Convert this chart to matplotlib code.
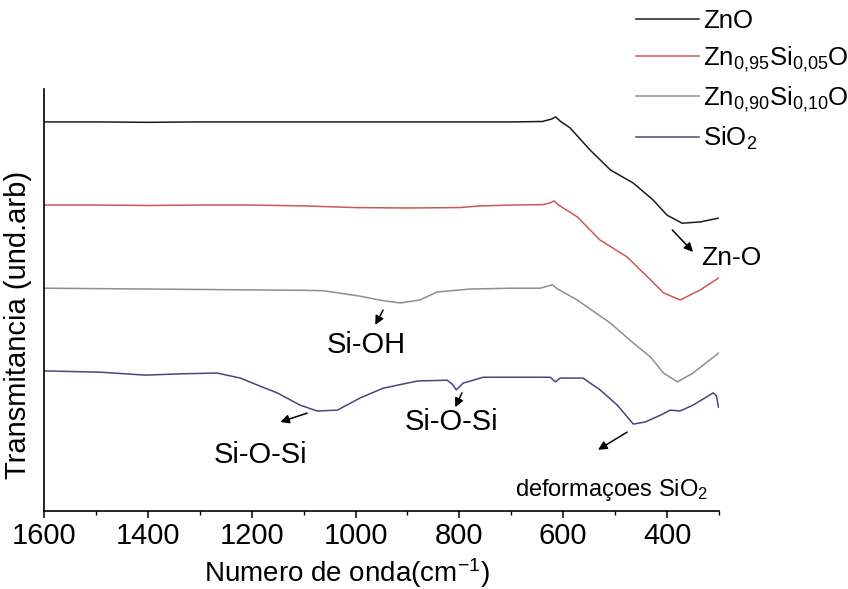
import matplotlib
matplotlib.use("Agg")
import matplotlib.pyplot as plt
from matplotlib import font_manager
from matplotlib.ticker import MultipleLocator

# ---- fonts -------------------------------------------------------------
_names = {f.name for f in font_manager.fontManager.ttflist}
NARROW = "Liberation Sans Narrow" if "Liberation Sans Narrow" in _names else "Liberation Sans"
plt.rcParams["font.family"] = [NARROW, "Liberation Sans", "DejaVu Sans"]
plt.rcParams["mathtext.fontset"] = "custom"
plt.rcParams["mathtext.rm"] = NARROW
plt.rcParams["mathtext.it"] = NARROW
plt.rcParams["mathtext.bf"] = NARROW

# ---- FTIR spectra (wavenumber in cm-1, transmittance in arb. units, stacked) ----
zno_wn = [1600, 1500, 1400, 1300, 1200, 1100, 1000, 900, 800, 700, 640, 622, 615,
          605, 587, 548, 509, 465, 427, 400, 371, 336, 301]
zno_t = [92.2, 92.2, 92.1, 92.2, 92.2, 92.2, 92.2, 92.2, 92.2, 92.2, 92.3, 92.9, 93.4,
         92.3, 90.8, 85.5, 80.8, 77.7, 73.7, 70.1, 68.2, 68.5, 69.4]

zn95_wn = [1600, 1500, 1400, 1300, 1200, 1100, 1000, 900, 800, 760, 700, 640, 625, 618,
           610, 573, 529, 477, 438, 407, 375, 336, 301]
zn95_t = [72.5, 72.5, 72.4, 72.5, 72.5, 72.3, 71.9, 71.8, 71.9, 72.3, 72.5, 72.6, 73.0, 73.5,
          72.6, 69.7, 64.2, 60.2, 55.5, 51.7, 50.0, 52.4, 55.2]

zn90_wn = [1600, 1500, 1400, 1300, 1203, 1100, 1062, 991, 950, 914, 876, 843, 779, 700,
           644, 621, 612, 573, 509, 465, 432, 407, 380, 350, 301]
zn90_t = [52.8, 52.7, 52.6, 52.5, 52.4, 52.3, 52.2, 50.9, 49.9, 49.3, 50.0, 51.9, 52.6, 52.8,
          52.8, 53.6, 52.7, 50.0, 44.5, 39.8, 36.5, 32.7, 30.6, 32.7, 37.4]

sio2_wn = [1600, 1492, 1405, 1338, 1267, 1222, 1184, 1151, 1107, 1074, 1035, 991, 947, 881,
           824, 814, 806, 793, 754, 625, 615, 606, 562, 529, 496, 465, 442, 413, 394, 375,
           350, 327, 311, 305, 301]
sio2_t = [33.2, 32.9, 32.2, 32.5, 32.7, 31.5, 29.6, 28.0, 25.1, 23.7, 23.9, 26.8, 29.1, 30.8,
          31.0, 30.1, 28.7, 30.3, 31.7, 31.7, 30.6, 31.5, 31.5, 28.7, 25.1, 20.6, 21.1, 22.7,
          23.9, 23.7, 25.1, 26.8, 28.0, 27.3, 24.6]

series = [
    ("ZnO", zno_wn, zno_t, "#1c1c1c"),
    ("Zn$_{0{,}95}$Si$_{0{,}05}$O", zn95_wn, zn95_t, "#cf5656"),
    ("Zn$_{0{,}90}$Si$_{0{,}10}$O", zn90_wn, zn90_t, "#8e8e8e"),
    ("SiO$_{2}$", sio2_wn, sio2_t, "#46467e"),
]

x_ticks = [1600, 1400, 1200, 1000, 800, 600, 400]

# ---- figure ------------------------------------------------------------
fig = plt.figure(figsize=(8.48, 5.89), dpi=100)
ax = fig.add_axes([0.0519, 0.1324, 0.7960, 0.7165])

lines = []
for name, wn, t, col in series:
    ln, = ax.plot(wn, t, color=col, lw=1.1, label=name)
    lines.append(ln)

ax.set_xlim(1600, 300)
ax.set_ylim(0, 100)
ax.xaxis.set_major_locator(MultipleLocator(200))
ax.xaxis.set_minor_locator(MultipleLocator(100))
ax.set_xticks(x_ticks)
ax.set_xticklabels([str(v) for v in x_ticks])
ax.set_yticks([])
for side in ("top", "right"):
    ax.spines[side].set_visible(False)
for side in ("left", "bottom"):
    ax.spines[side].set_linewidth(1.2)
ax.tick_params(axis="x", which="major", direction="out", length=5, width=1.1,
               labelsize=21, pad=3)
ax.tick_params(axis="x", which="minor", direction="out", length=3, width=1.0)

ax.set_xlabel("Numero de onda(cm$^{-1}$)", fontsize=20)
ax.xaxis.set_label_coords(0.449, -0.106)
ax.set_ylabel("Transmitancia (und.arb)", fontsize=21,
              family=["Liberation Sans", "DejaVu Sans"])
ax.yaxis.set_label_coords(-0.018, 0.44)

# ---- band assignments ------------------------------------------------------
arrow = dict(arrowstyle="-|>", color="black", lw=1.1, mutation_scale=13,
             shrinkA=0, shrinkB=0)
ax.annotate("", xy=(350, 61.4), xytext=(390, 66.6), arrowprops=arrow)
ax.text(335, 60.0, "Zn-O", fontsize=19, ha="left", va="center")

ax.annotate("", xy=(962, 44.1), xytext=(947, 47.6), arrowprops=arrow)
ax.text(980, 39.3, "Si-OH", fontsize=21, ha="center", va="center")

ax.annotate("", xy=(1145, 21.1), xytext=(1093, 23.2), arrowprops=arrow)
ax.text(1184, 13.3, "Si-O-Si", fontsize=21, ha="center", va="center")

ax.annotate("", xy=(808, 24.6), xytext=(795, 28.0), arrowprops=arrow)
ax.text(816, 21.1, "Si-O-Si", fontsize=21, ha="center", va="center")

ax.annotate("", xy=(533, 14.5), xytext=(477, 18.7), arrowprops=arrow)
ax.text(506, 5.0, "deformaçoes SiO$_{2}$", fontsize=17, ha="center", va="center")

# ---- legend ------------------------------------------------------------
fig.legend(handles=lines, loc="upper left", bbox_to_anchor=(0.743, 0.995),
           frameon=False, fontsize=18.5, handlelength=2.45, handletextpad=0.15,
           labelspacing=0.42, borderaxespad=0.0, borderpad=0.25)

fig.savefig("out.png", dpi=100)
